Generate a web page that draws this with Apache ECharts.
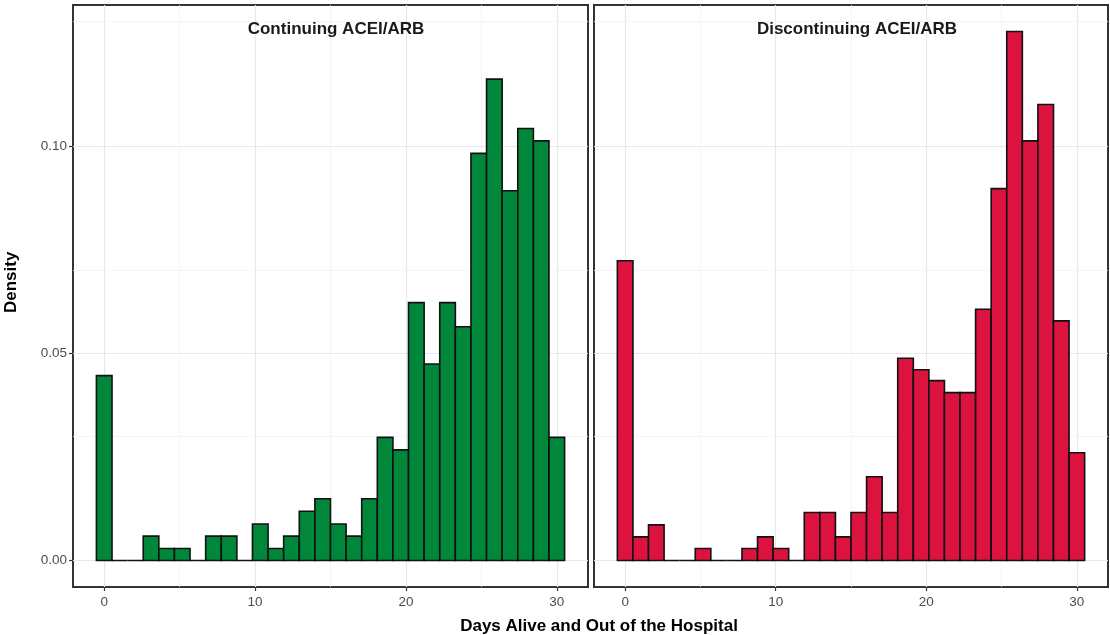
<!DOCTYPE html>
<html>
<head>
<meta charset="utf-8">
<script src="https://cdn.jsdelivr.net/npm/echarts@6/dist/echarts.min.js"></script>
<style>
  html, body { margin: 0; padding: 0; background: #fff; }
  #chart { width: 1110px; height: 635px; }
</style>
</head>
<body>
<div id="chart"></div>
<script>
// 30 histogram bins over 0..30 days (ggplot default), density per bin
const binCount = 30
const dayMax = 30
const continuingDensity = [
  0.0446, 0, 0, 0.0059, 0.0029, 0.0029, 0, 0.0059, 0.0059, 0,
  0.0088, 0.0029, 0.0059, 0.0119, 0.0149, 0.0088, 0.0059, 0.0149, 0.0297, 0.0267,
  0.0622, 0.0474, 0.0622, 0.0564, 0.0982, 0.1161, 0.0892, 0.1042, 0.1012, 0.0297
]
const discontinuingDensity = [
  0.0723, 0.0057, 0.0086, 0, 0, 0.0029, 0, 0, 0.0029, 0.0057,
  0.0029, 0, 0.0116, 0.0116, 0.0057, 0.0116, 0.0202, 0.0116, 0.0488, 0.0460,
  0.0434, 0.0405, 0.0405, 0.0606, 0.0897, 0.1276, 0.1012, 0.1100, 0.0578, 0.0260
]
const panelTitles = ['Continuing ACEI/ARB', 'Discontinuing ACEI/ARB']
const xTicks = [0, 10, 20, 30]
const xMinor = [5, 15, 25]
const yTicks = [0, 0.05, 0.1]
const yMinor = [0.025, 0.075, 0.125]
const yTickLabels = ['0.00', '0.05', '0.10']

const chart = echarts.init(document.getElementById('chart'))

const binWidth = dayMax / (binCount - 1)
const toBins = (dens) => dens.map((d, i) => [i * binWidth - binWidth / 2, i * binWidth + binWidth / 2, d])

const xMin = -binWidth / 2 - (dayMax + binWidth) * 0.05
const xMax = dayMax + binWidth / 2 + (dayMax + binWidth) * 0.05
const allMax = Math.max(...continuingDensity, ...discontinuingDensity)
const yMin = -allMax * 0.05
const yMax = allMax * 1.05

const gridLines = () => [
  ...xTicks.map((v) => ({ xAxis: v, lineStyle: { color: '#e8e8e8', width: 1.2 } })),
  ...xMinor.map((v) => ({ xAxis: v, lineStyle: { color: '#f2f2f2', width: 0.8 } })),
  ...yTicks.map((v) => ({ yAxis: v, lineStyle: { color: '#e8e8e8', width: 1.2 } })),
  ...yMinor.map((v) => ({ yAxis: v, lineStyle: { color: '#f2f2f2', width: 0.8 } }))
]

const barSeries = (idx, dens, color) => ({
  type: 'custom',
  xAxisIndex: idx,
  yAxisIndex: idx,
  z: 3,
  silent: true,
  data: toBins(dens),
  renderItem: (params, api) => {
    const p0 = api.coord([api.value(0), api.value(2)])
    const p1 = api.coord([api.value(1), 0])
    // polygon so empty bins still show their outline along zero
    return {
      type: 'polygon',
      shape: { points: [[p0[0], p1[1]], [p0[0], p0[1]], [p1[0], p0[1]], [p1[0], p1[1]]] },
      style: { fill: color, stroke: '#111', lineWidth: 1.6, lineJoin: 'miter' }
    }
  }
})

const bgSeries = (idx) => ({
  type: 'scatter',
  xAxisIndex: idx,
  yAxisIndex: idx,
  z: 1,
  data: [],
  markLine: {
    z: 1,
    silent: true,
    symbol: 'none',
    label: { show: false },
    lineStyle: { type: 'solid' },
    animation: false,
    data: gridLines()
  }
})

const xAxisCfg = (idx) => ({
  type: 'value',
  gridIndex: idx,
  min: xMin,
  max: xMax,
  axisLine: { show: false, onZero: false },
  splitLine: { show: false },
  axisTick: { show: true, customValues: xTicks, length: 4, lineStyle: { color: '#333', width: 1.2 } },
  axisLabel: { customValues: xTicks, color: '#4d4d4d', fontSize: 13.5, margin: 8, fontFamily: 'Liberation Sans, Arial' }
})

const yAxisCfg = (idx) => ({
  type: 'value',
  gridIndex: idx,
  min: yMin,
  max: yMax,
  axisLine: { show: false, onZero: false },
  splitLine: { show: false },
  axisTick: { show: idx === 0, customValues: yTicks, length: 4, lineStyle: { color: '#333', width: 1.2 } },
  axisLabel: {
    show: idx === 0,
    customValues: yTicks,
    color: '#4d4d4d',
    fontSize: 13.5,
    margin: 6,
    fontFamily: 'Liberation Sans, Arial',
    formatter: (v) => yTickLabels[yTicks.findIndex((t) => Math.abs(t - v) < 1e-9)] ?? ''
  }
})

const option = {
  animation: false,
  textStyle: { fontFamily: 'Liberation Sans, Arial' },
  grid: [
    { left: 73, top: 5, width: 515, height: 582, show: true, borderColor: '#333', borderWidth: 2, backgroundColor: '#fff' },
    { left: 594, top: 5, width: 514, height: 582, show: true, borderColor: '#333', borderWidth: 2, backgroundColor: '#fff' }
  ],
  title: [
    { text: panelTitles[0], left: 331, top: 16, textAlign: 'center', textStyle: { fontSize: 17, fontWeight: 'bold', color: '#1a1a1a' } },
    { text: panelTitles[1], left: 852, top: 16, textAlign: 'center', textStyle: { fontSize: 17, fontWeight: 'bold', color: '#1a1a1a' } },
    { text: 'Days Alive and Out of the Hospital', left: 594, top: 613, textAlign: 'center', textStyle: { fontSize: 17, fontWeight: 'bold', color: '#000' } }
  ],
  graphic: [
    {
      type: 'text',
      x: 3,
      y: 313,
      rotation: Math.PI / 2,
      style: { text: 'Density', font: 'bold 17px Liberation Sans, Arial', fill: '#000' }
    }
  ],
  xAxis: [xAxisCfg(0), xAxisCfg(1)],
  yAxis: [yAxisCfg(0), yAxisCfg(1)],
  series: [
    bgSeries(0),
    bgSeries(1),
    barSeries(0, continuingDensity, '#00873a'),
    barSeries(1, discontinuingDensity, '#dc133e')
  ]
}

chart.setOption(option)
</script>
</body>
</html>
